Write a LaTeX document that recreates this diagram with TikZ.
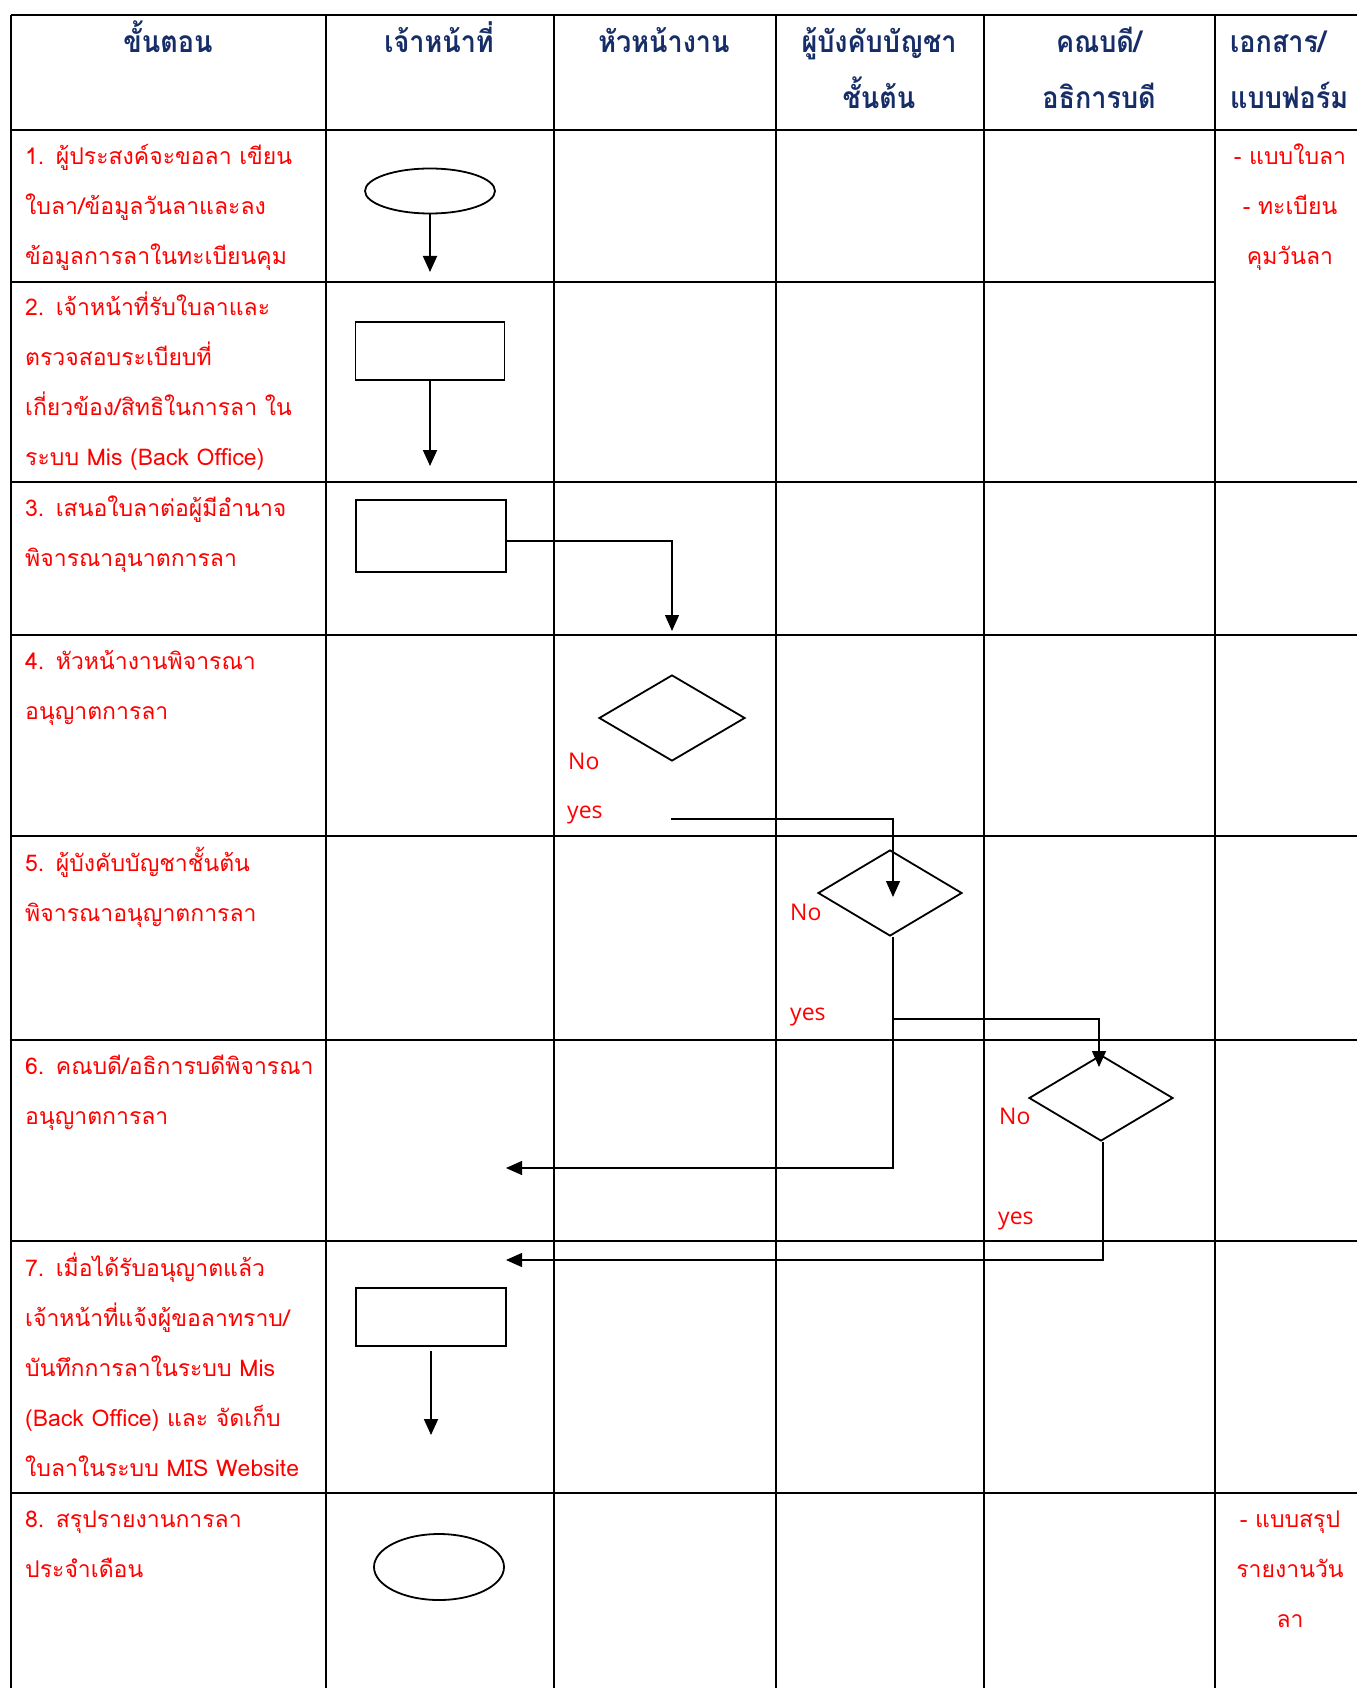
\documentclass[tikz,border=0pt]{standalone}
\usepackage{fontspec}
\usetikzlibrary{shapes.geometric,arrows.meta,calc}
\newfontfamily\thai[Script=Thai]{Loma}
\newfontfamily\thaihead[Script=Thai,FakeStretch=0.9]{Loma}
\newfontfamily\latin{Open Sans}
\definecolor{stepred}{RGB}{255,0,0}
\definecolor{headnavy}{RGB}{22,45,104}
\begin{document}
\begin{tikzpicture}[x=1pt,y=-1pt,
  gridline/.style={line width=2.2pt},
  flowshape/.style={draw, line width=1.8pt, inner sep=0pt},
  arr/.style={line width=1.3pt, -{Triangle[width=14pt,length=16pt]}},
  arrbold/.style={line width=1.8pt, -{Triangle[width=14pt,length=16pt]}},
  hdr/.style={font=\thaihead\bfseries\fontsize{30}{56}\selectfont, text=headnavy,
    inner sep=0pt, text width=220pt, align=center, anchor=base},
  steptext/.style={font=\thai\fontsize{23}{50}\selectfont, text=stepred,
    inner sep=0pt, text width=400pt, align=left, anchor=base west},
  doctext/.style={font=\thai\fontsize{23}{50}\selectfont, text=stepred,
    inner sep=0pt, text width=140pt, align=center, anchor=base},
  lab/.style={font=\latin\fontsize{23}{23}\selectfont, text=stepred,
    inner sep=0pt, anchor=base west},
]
\useasboundingbox (0,0) rectangle (1357,1688);
\fill[white] (0,0) rectangle (1357,1688);

% table grid
\foreach \y in {15,130,482,635,836,1040,1241,1493}
  \draw[gridline] (11,\y) -- (1357,\y);
\draw[gridline] (11,282) -- (1215,282);
\foreach \x in {11,326,554,776,984,1215}
  \draw[gridline] (\x,15) -- (\x,1688);

% column headings
\node[hdr] (h1) at (168,53) {ขั้นตอน};
\node[hdr] (h2) at (439,53) {เจ้าหน้าที่};
\node[hdr] (h3) at (664,53) {หัวหน้างาน};
\node[hdr] (h4) at (879,53) {ผู้บังคับบัญชา\\ชั้นต้น};
\node[hdr] (h5) at (1099,53) {คณบดี/\\อธิการบดี};
\node[hdr, anchor=base west, align=left, text width=120pt] (h6) at (1230,53) {เอกสาร/\\แบบฟอร์ม};

% step descriptions
\node[steptext] (s1) at (25,165) {1. ผู้ประสงค์จะขอลา เขียน\\ใบลา/ข้อมูลวันลาและลง\\ข้อมูลการลาในทะเบียนคุม};
\node[steptext] (s2) at (25,315) {2. เจ้าหน้าที่รับใบลาและ\\ตรวจสอบระเบียบที่\\เกี่ยวข้อง/สิทธิในการลา ใน\\ระบบ Mis (Back Office)};
\node[steptext] (s3) at (25,516) {3. เสนอใบลาต่อผู้มีอำนาจ\\พิจารณาอุนาตการลา};
\node[steptext] (s4) at (25,669) {4. หัวหน้างานพิจารณา\\อนุญาตการลา};
\node[steptext] (s5) at (25,871) {5. ผู้บังคับบัญชาชั้นต้น\\พิจารณาอนุญาตการลา};
\node[steptext] (s6) at (25,1074) {6. คณบดี/อธิการบดีพิจารณา\\อนุญาตการลา};
\node[steptext] (s7) at (25,1276) {7. เมื่อได้รับอนุญาตแล้ว\\เจ้าหน้าที่แจ้งผู้ขอลาทราบ/\\บันทึกการลาในระบบ Mis\\(Back Office) และ จัดเก็บ\\ใบลาในระบบ MIS Website};
\node[steptext] (s8) at (25,1527) {8. สรุปรายงานการลา\\ประจำเดือน};

% documents and forms
\node[doctext] (d1) at (1290,165) {- แบบใบลา\\- ทะเบียน\\คุมวันลา};
\node[doctext] (d8) at (1290,1527) {- แบบสรุป\\รายงานวัน\\ลา};

% flow shapes
\node[flowshape, ellipse, minimum width=130pt, minimum height=45pt] (start) at (430,191) {};
\node[flowshape, rectangle, minimum width=149pt, minimum height=58pt] (box2) at (430,351) {};
\node[flowshape, rectangle, minimum width=150pt, minimum height=72pt] (box3) at (431,536) {};
\node[flowshape, diamond, minimum width=146pt, minimum height=86pt] (dec4) at (672,718) {};
\node[flowshape, diamond, minimum width=144pt, minimum height=86pt] (dec5) at (890,893) {};
\node[flowshape, diamond, minimum width=144pt, minimum height=86pt] (dec6) at (1101,1098) {};
\node[flowshape, rectangle, minimum width=150pt, minimum height=58pt] (box7) at (431,1317) {};
\node[flowshape, ellipse, minimum width=130pt, minimum height=66pt] (end8) at (439,1567) {};

% decision labels
\node[lab] (no4) at (568,769) {No};
\node[lab] (yes4) at (567,818) {yes};
\node[lab] (no5) at (790,920) {No};
\node[lab] (yes5) at (790,1020) {yes};
\node[lab] (no6) at (999,1124) {No};
\node[lab] (yes6) at (998,1224) {yes};

% connector end points
\coordinate (t1) at (430,272);
\coordinate (t2) at (430,466);
\coordinate (k3) at (672,541);
\coordinate (t3) at (672,631);
\coordinate (y4) at (671,819);
\coordinate (k4) at (893,819);
\coordinate (t4) at (893,897);
\coordinate (n5) at (506,1168);
\coordinate (j5) at (893,1019);
\coordinate (k5) at (1099,1019);
\coordinate (t5) at (1099,1067);
\coordinate (n6) at (506,1260);
\coordinate (t7) at (431,1435);

% connectors
\draw[arrbold] (start.south) -- (t1);
\draw[arrbold] (box2.south) -- (t2);
\draw[arr] (box3.east |- k3) -- (k3) -- (t3);
\draw[arr] (y4) -- (k4) -- (t4);
\draw[arr] ([xshift=3pt]dec5.south) |- (n5);
\draw[arr] (j5) -- (k5) -- (t5);
\draw[arr] ([xshift=2pt]dec6.south) |- (n6);
\draw[arrbold] ([yshift=-4pt]box7.south) -- (t7);
\end{tikzpicture}
\end{document}
